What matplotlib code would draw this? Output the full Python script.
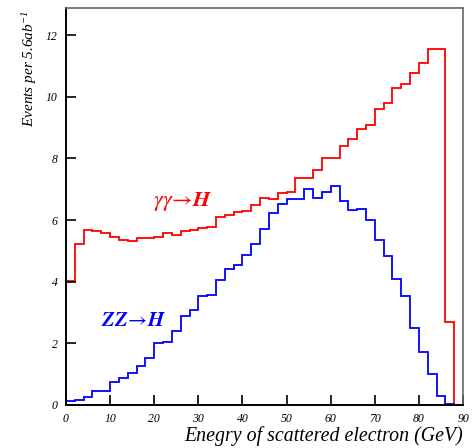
import numpy as np
import matplotlib.pyplot as plt

# bin edges (GeV) and contents
edges = np.arange(0, 92, 2)
gg_h = [4.02, 5.22, 5.68, 5.66, 5.57, 5.45, 5.37, 5.33, 5.43, 5.41,
        5.44, 5.59, 5.53, 5.66, 5.67, 5.75, 5.78, 6.09, 6.15, 6.25,
        6.31, 6.48, 6.72, 6.68, 6.87, 6.92, 7.37, 7.35, 7.62, 8.02,
        8.02, 8.41, 8.63, 8.94, 9.08, 9.59, 9.81, 10.28, 10.43, 10.76,
        11.11, 11.56, 11.55, 2.70, 0.0]
zz_h = [0.12, 0.16, 0.26, 0.44, 0.47, 0.75, 0.86, 1.04, 1.26, 1.52,
        2.01, 2.03, 2.41, 2.88, 3.07, 3.55, 3.57, 4.05, 4.42, 4.54,
        4.87, 5.21, 5.72, 6.22, 6.52, 6.67, 6.68, 7.01, 6.73, 6.90,
        7.11, 6.63, 6.33, 6.35, 5.99, 5.37, 4.83, 4.10, 3.55, 2.51,
        1.72, 1.02, 0.30, 0.04, 0.0]
xticks = np.arange(0, 100, 10)
yticks = np.arange(0, 14, 2)

serif = ['Liberation Serif', 'DejaVu Serif']
plt.rcParams['mathtext.fontset'] = 'custom'
plt.rcParams['mathtext.rm'] = 'Liberation Serif:italic'
plt.rcParams['mathtext.it'] = 'Liberation Serif:italic'

fig = plt.figure(figsize=(4.73, 4.48), dpi=100)
ax = fig.add_axes([0.1395, 0.096, 0.8395, 0.886])

ax.stairs(gg_h, edges, color='#ff0000', lw=1.3)
ax.stairs(zz_h, edges, color='#0000ff', lw=1.3)

ax.set_xlim(0, 90)
ax.set_ylim(0, 12.88)
ax.set_xticks(xticks)
ax.set_yticks(yticks)
ax.tick_params(direction='in', length=7, width=1.2, labelsize=8.5, pad=6)
for lab in ax.get_xticklabels() + ax.get_yticklabels():
    lab.set_fontfamily(serif)
    lab.set_fontstyle('italic')

for s in ['left', 'bottom']:
    ax.spines[s].set_linewidth(1.4)
    ax.spines[s].set_color('black')
for s in ['top', 'right']:
    ax.spines[s].set_linewidth(1.2)
    ax.spines[s].set_color('#666666')

ax.text(26.4, 6.6, r'$\gamma\gamma\!\rightarrow\!\mathbfit{H}$', color='#ff0000',
        fontsize=16, math_fontfamily='stix', ha='center', va='center')
ax.text(15.3, 2.75, r'$\mathbfit{ZZ}\!\rightarrow\!\mathbfit{H}$', color='#0000ff',
        fontsize=15, math_fontfamily='stix', ha='center', va='center')

fig.text(463 / 473, 1 - 436 / 448, 'Enegry of scattered electron (GeV)',
         fontsize=14.3, family=serif, style='italic', ha='right', va='center')
fig.text(30 / 473, 1 - 10 / 448, r'Events per 5.6ab$^{-1}$', fontsize=11,
         family=serif, style='italic', rotation=90, ha='center', va='top')

plt.savefig('out.png', dpi=100)
